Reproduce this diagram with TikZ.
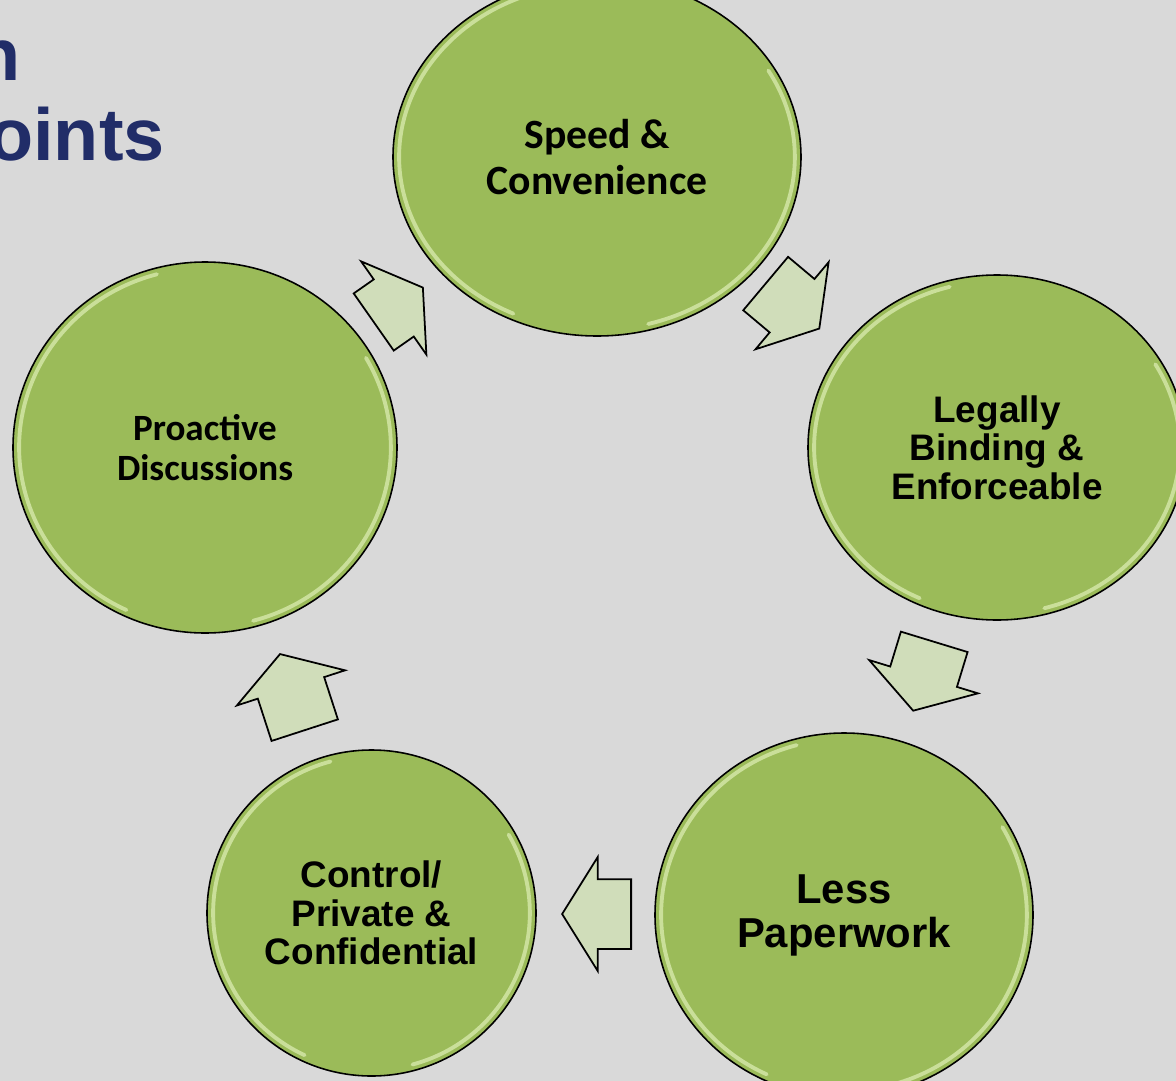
\documentclass[tikz,border=0pt]{standalone}
\usepackage{fontspec}
\setmainfont{Liberation Sans}
\newfontfamily\calibri{Carlito}
\usetikzlibrary{shapes.geometric,shapes.arrows,calc}

\definecolor{slidegray}{RGB}{217,217,217}
\definecolor{leafgreen}{RGB}{155,187,89}
\definecolor{rimgreen}{RGB}{228,243,190}
\definecolor{palegreen}{RGB}{208,221,186}
\definecolor{titleblue}{RGB}{33,45,104}

\begin{document}
\begin{tikzpicture}[
    bubble/.style={
        ellipse,
        draw=black,
        line width=0.9pt,
        fill=leafgreen,
        inner sep=0pt,
        align=center,
        path picture={
            \draw[rim] let \p1=($(path picture bounding box.north east)-(path picture bounding box.center)$),
                \n1={\x1-3.5pt}, \n2={\y1-3.5pt} in
                ($(path picture bounding box.center)+(105:\n1 and \n2)$)
                arc[start angle=105, end angle=245, x radius=\n1, y radius=\n2]
                ($(path picture bounding box.center)+(-75:\n1 and \n2)$)
                arc[start angle=-75, end angle=30, x radius=\n1, y radius=\n2];
        }
    },
    rim/.style={draw=rimgreen, line width=2.2pt, opacity=0.65, line cap=round},
    flow/.style={
        single arrow,
        draw=black,
        line width=1pt,
        fill=palegreen,
        inner xsep=0pt,
        inner ysep=0.68cm,
        minimum width=2.24cm,
        single arrow head extend=0.44cm,
        single arrow tip angle=116,
        anchor=tail
    },
    heading/.style={font=\bfseries\fontsize{42}{45}\selectfont, text=titleblue, inner sep=0pt}
]
\useasboundingbox (0,0) rectangle (23.52,-21.62);
\clip (0,0) rectangle (23.52,-21.62);
\fill[slidegray] (0,0) rectangle (23.52,-21.62);

%==========================
% Title
%==========================
\node[heading, anchor=base east] (title1) at (0.42,-1.6) {n};
\node[heading, anchor=base west] (title2) at (-0.24,-3.2) {oints};

%==========================
% Cycle
%==========================
\node[bubble, minimum width=8.16cm, minimum height=7.16cm,
      font=\calibri\bfseries\fontsize{23.7}{26}\selectfont] (speed) at (11.94,-3.14)
{Speed \&\\Convenience};
\node[bubble, minimum width=7.56cm, minimum height=6.9cm,
      font=\bfseries\fontsize{21}{21.8}\selectfont] (legal) at (19.94,-8.95)
{Legally\\Binding \&\\Enforceable};
\node[bubble, minimum width=7.56cm, minimum height=7.28cm,
      font=\bfseries\fontsize{23.8}{25}\selectfont] (paper) at (16.88,-18.30)
{Less\\Paperwork};
\node[bubble, minimum width=6.58cm, minimum height=6.52cm,
      font=\bfseries\fontsize{21}{21.8}\selectfont] (private) at (7.43,-18.26)
{Control/\\Private \&\\Confidential};
\node[bubble, minimum width=7.68cm, minimum height=7.42cm,
      font=\calibri\bfseries\fontsize{21.1}{22.7}\selectfont] (talks) at (4.10,-8.95)
{Proactive\\Discussions};

% block arrows, placed by their tails
\node[flow, minimum height=1.2cm, rotate=35] (a1) at (7.46,-6.45) {};
\node[flow, minimum height=1.4cm, rotate=-40] (a2) at (15.30,-5.66) {};
\node[flow, minimum height=1.44cm, rotate=-107] (a3) at (18.69,-12.82) {};
\node[flow, minimum height=1.38cm, rotate=180] (a4) at (12.64,-18.28) {};
\node[flow, minimum height=1.6cm, rotate=108] (a5) at (6.10,-14.62) {};

\end{tikzpicture}
\end{document}
